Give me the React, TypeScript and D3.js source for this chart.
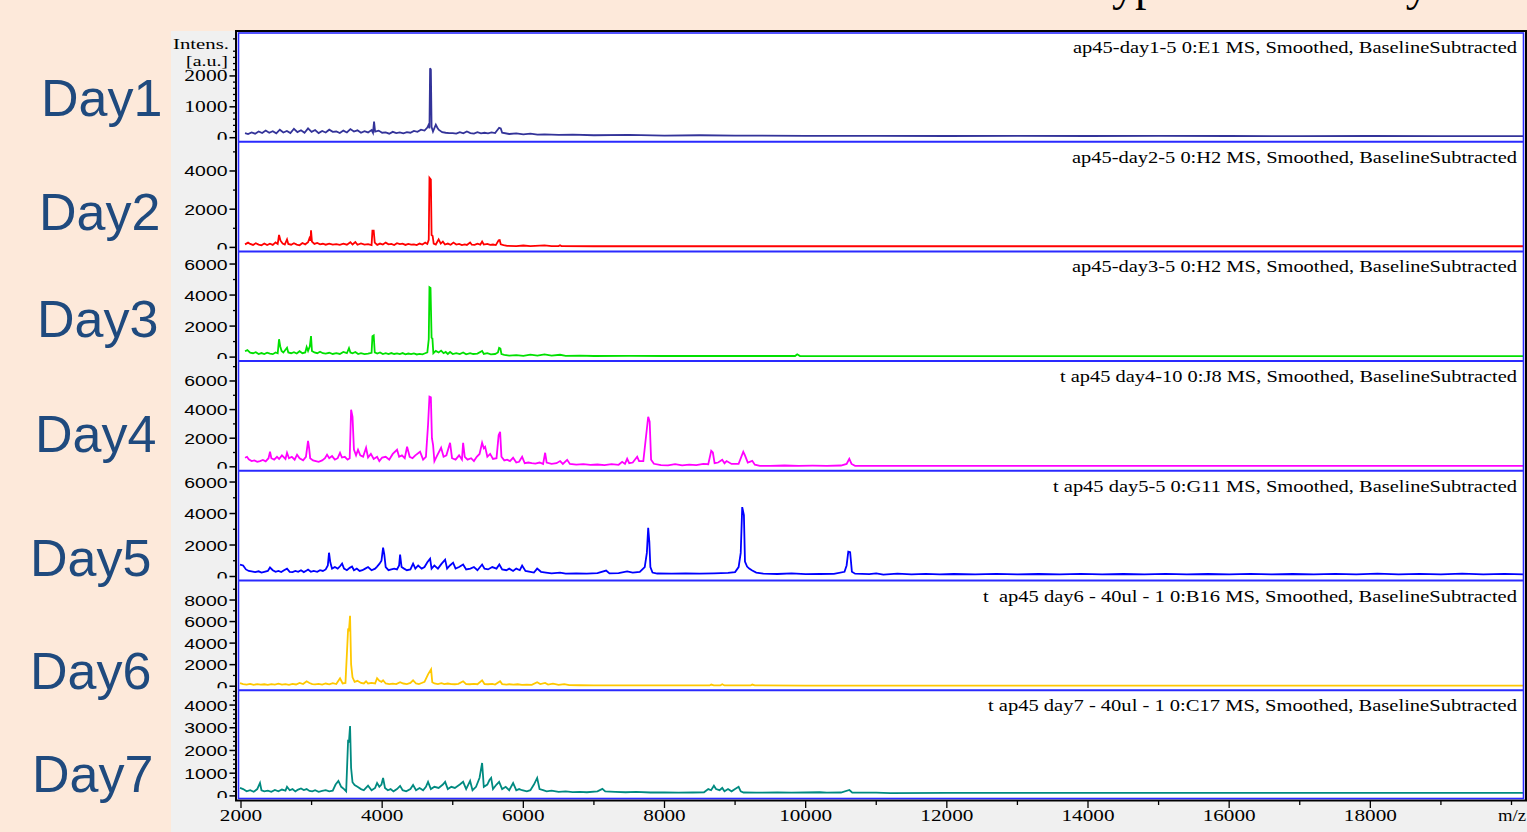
import React from 'react';
import * as d3 from 'd3';

const W = 1527;
const H = 832;

const dayLabels = ['Day1', 'Day2', 'Day3', 'Day4', 'Day5', 'Day6', 'Day7'];
const dayLabelX = [41, 39, 37, 35, 30, 30, 32];
const dayLabelBaseline = [116, 230, 337, 452, 576, 689, 792];

const headers = [
  'ap45-day1-5 0:E1 MS, Smoothed, BaselineSubtracted',
  'ap45-day2-5 0:H2 MS, Smoothed, BaselineSubtracted',
  'ap45-day3-5 0:H2 MS, Smoothed, BaselineSubtracted',
  't ap45 day4-10 0:J8 MS, Smoothed, BaselineSubtracted',
  't ap45 day5-5 0:G11 MS, Smoothed, BaselineSubtracted',
  't\u00a0 ap45 day6 - 40ul - 1 0:B16 MS, Smoothed, BaselineSubtracted',
  't ap45 day7 - 40ul - 1 0:C17 MS, Smoothed, BaselineSubtracted',
];
const headerStart = [1073, 1072, 1072, 1060, 1053, 983, 988];

const colors = ['#333399', '#ff0000', '#00e000', '#ff00ff', '#0000ff', '#ffc800', '#008a80'];

const yMaxes = [3390, 5480, 6750, 7320, 6650, 9720, 4610];
const yMajorSteps = [1000, 2000, 2000, 2000, 2000, 2000, 1000];
const yMinorSteps = [200, 1000, 1000, 1000, 1000, 1000, 200];
const yTickTop = [2000, 4000, 6000, 6000, 6000, 8000, 4000];

const xMajorTicks = [2000, 4000, 6000, 8000, 10000, 12000, 14000, 16000, 18000];
const xMinorTicks = [3000, 5000, 7000, 9000, 11000, 13000, 15000, 17000, 19000, 20000];
const xDomain = [2000, 20000];

const day1: [number, number][] = [
  [2057,150],[2100,120],[2150,170],[2200,130],[2250,200],[2300,150],[2350,230],[2400,160],[2450,210],[2500,140],
  [2550,260],[2600,170],[2650,220],[2700,150],[2750,290],[2800,180],[2850,240],[2900,160],[2950,300],[3000,190],
  [3050,250],[3100,150],[3150,220],[3200,170],[3250,260],[3300,190],[3350,200],[3400,150],[3450,230],[3500,170],
  [3550,280],[3600,200],[3650,240],[3700,160],[3750,210],[3800,170],[3850,250],[3870,160],[3885,520],[3900,200],
  [3950,230],[4000,160],[4050,170],[4100,130],[4150,190],[4200,150],[4250,170],[4300,140],[4350,180],[4400,160],
  [4450,220],[4500,190],[4550,260],[4600,230],[4640,330],[4660,430],[4670,300],[4679,2250],[4690,2200],[4700,350],
  [4720,200],[4760,420],[4780,330],[4800,260],[4850,180],[4900,160],[4950,150],[5000,150],[5050,130],[5100,180],
  [5150,140],[5200,200],[5250,150],[5300,130],[5350,180],[5400,140],[5450,160],[5500,140],[5550,170],[5600,150],
  [5657,320],[5680,300],[5700,160],[5800,120],[5900,140],[6000,110],[6100,130],[6200,100],[6300,110],[6500,90],
  [6700,100],[7000,80],[7500,90],[8000,70],[8500,80],[9000,70],[10000,60],[11000,60],[12000,55],[13000,60],
  [14000,55],[15000,60],[16000,55],[17000,50],[18000,55],[19000,50],[20186,50],
];

const day2: [number, number][] = [
  [2057,160],[2100,250],[2130,180],[2170,130],[2210,220],[2250,150],[2290,110],[2330,200],[2370,120],[2410,190],
  [2450,130],[2490,260],[2520,180],[2539,650],[2560,350],[2590,200],[2620,150],[2652,420],[2670,180],[2710,140],
  [2750,220],[2790,150],[2830,110],[2870,230],[2910,160],[2950,270],[2970,480],[2985,350],[2992,900],[3005,300],
  [3040,180],[3080,230],[3120,160],[3160,190],[3200,140],[3250,200],[3300,150],[3350,170],[3400,130],[3450,200],
  [3500,140],[3550,270],[3580,150],[3620,280],[3650,140],[3700,210],[3750,150],[3800,170],[3850,120],[3862,880],
  [3880,880],[3895,250],[3930,130],[3970,200],[4010,150],[4050,250],[4090,160],[4130,180],[4170,120],[4210,220],
  [4250,170],[4290,200],[4330,130],[4370,180],[4410,150],[4450,160],[4490,120],[4530,200],[4570,150],[4610,250],
  [4640,180],[4660,400],[4670,3640],[4690,3550],[4700,650],[4715,600],[4730,200],[4760,150],[4800,420],[4830,200],
  [4860,300],[4890,150],[4930,200],[4970,140],[5010,250],[5050,150],[5090,180],[5130,120],[5170,160],[5200,130],
  [5246,260],[5270,140],[5310,130],[5350,190],[5390,140],[5416,310],[5440,150],[5490,180],[5530,130],[5570,150],
  [5610,120],[5650,370],[5665,380],[5680,160],[5720,120],[5770,80],[5900,70],[6000,100],[6100,70],[6300,110],
  [6400,70],[6500,70],[6520,110],[6540,70],[7000,60],[8000,60],[10000,60],[12000,60],[14000,60],[16000,60],
  [18000,60],[20186,60],
];

const day3: [number, number][] = [
  [2057,380],[2090,450],[2130,280],[2170,250],[2210,320],[2250,200],[2290,260],[2330,200],[2370,280],[2410,220],
  [2450,190],[2490,300],[2520,250],[2539,1150],[2555,700],[2575,400],[2600,300],[2652,600],[2670,300],[2710,250],
  [2750,320],[2790,230],[2830,380],[2870,250],[2910,300],[2930,650],[2950,400],[2975,700],[2992,1350],[3005,400],
  [3040,300],[3080,250],[3120,350],[3160,250],[3200,230],[3250,280],[3300,200],[3350,250],[3400,200],[3450,330],
  [3500,250],[3530,580],[3550,300],[3580,250],[3620,330],[3660,200],[3700,250],[3750,190],[3800,220],[3850,280],
  [3862,1350],[3880,1400],[3895,300],[3930,230],[3970,300],[4010,200],[4050,250],[4090,190],[4130,260],[4170,200],
  [4210,240],[4250,190],[4290,260],[4330,180],[4370,230],[4410,190],[4450,240],[4490,170],[4530,210],[4570,180],
  [4610,250],[4640,300],[4660,1150],[4670,4500],[4685,4450],[4700,1250],[4712,1200],[4725,250],[4760,400],[4800,300],
  [4835,420],[4870,250],[4900,330],[4930,200],[4962,330],[5000,200],[5050,260],[5100,200],[5147,300],[5190,180],
  [5246,260],[5290,200],[5350,230],[5416,400],[5440,200],[5490,250],[5540,180],[5600,200],[5640,300],[5657,600],
  [5675,550],[5690,200],[5730,150],[5800,100],[5900,130],[6000,80],[6100,160],[6200,100],[6300,180],[6400,100],
  [6520,150],[6600,80],[6800,90],[7000,70],[7500,80],[8000,70],[9000,70],[9850,70],[9880,180],[9920,70],
  [10000,60],[12000,60],[14000,60],[16000,60],[18000,60],[20186,60],
];

const day4: [number, number][] = [
  [2057,630],[2085,700],[2110,520],[2150,400],[2190,450],[2230,350],[2270,400],[2310,480],[2350,380],[2390,600],
  [2411,1050],[2430,600],[2470,500],[2510,700],[2540,550],[2580,800],[2630,550],[2652,980],[2680,600],[2720,700],
  [2760,500],[2794,850],[2830,600],[2880,450],[2920,700],[2950,1820],[2965,1300],[2980,600],[3020,450],[3060,400],
  [3100,350],[3150,450],[3190,600],[3219,850],[3250,600],[3290,750],[3330,500],[3370,600],[3403,980],[3430,650],
  [3470,700],[3510,500],[3540,600],[3560,3990],[3580,3500],[3600,1200],[3630,800],[3658,1190],[3690,800],[3730,700],
  [3772,1330],[3800,650],[3840,900],[3880,550],[3928,700],[3960,400],[4000,650],[4050,700],[4100,500],[4150,900],
  [4211,1190],[4240,700],[4280,800],[4320,600],[4353,1400],[4390,700],[4430,600],[4470,800],[4537,1050],[4580,500],
  [4620,700],[4650,2940],[4670,4900],[4690,4850],[4705,2000],[4721,1540],[4740,400],[4780,800],[4835,1330],[4870,700],
  [4910,800],[4962,1680],[4990,600],[5040,500],[5090,800],[5130,500],[5147,1680],[5170,700],[5210,500],[5260,600],
  [5300,400],[5340,700],[5380,900],[5416,1680],[5440,1300],[5459,1400],[5490,700],[5530,900],[5570,550],[5620,600],
  [5650,2200],[5671,2450],[5690,700],[5730,450],[5770,500],[5810,400],[5855,630],[5900,300],[5940,350],[5983,700],
  [6020,250],[6070,300],[6120,250],[6170,220],[6230,300],[6280,200],[6309,980],[6330,300],[6400,200],[6470,250],
  [6521,400],[6560,200],[6621,490],[6660,200],[6750,150],[6850,180],[6950,140],[7050,160],[7150,120],[7250,180],
  [7350,140],[7400,350],[7440,200],[7471,560],[7500,250],[7550,300],[7613,700],[7640,400],[7700,400],[7769,3500],
  [7790,3150],[7810,500],[7850,210],[7950,120],[8050,100],[8150,180],[8250,100],[8350,150],[8450,120],[8550,200],
  [8620,180],[8662,1120],[8685,1000],[8710,250],[8760,300],[8818,490],[8850,250],[8880,400],[8950,200],[9050,200],
  [9116,1050],[9140,800],[9180,300],[9243,420],[9280,150],[9350,70],[9500,70],[9700,90],[9900,70],[10100,80],
  [10300,70],[10500,90],[10580,200],[10618,560],[10650,200],[10700,70],[11000,70],[11500,70],[12000,70],[14000,70],
  [16000,70],[18000,70],[20186,70],
];

const day5: [number, number][] = [
  [1986,760],[2030,700],[2070,450],[2110,350],[2150,320],[2200,280],[2250,330],[2290,250],[2330,300],[2380,350],
  [2411,570],[2450,400],[2490,300],[2530,350],[2570,280],[2610,400],[2652,500],[2690,300],[2730,280],[2770,350],
  [2810,300],[2850,400],[2890,280],[2930,380],[2950,440],[2990,300],[3030,350],[3080,300],[3120,400],[3160,350],
  [3200,450],[3230,700],[3247,1510],[3265,900],[3290,500],[3330,600],[3370,500],[3403,650],[3432,820],[3460,500],
  [3500,400],[3540,550],[3573,630],[3600,400],[3640,500],[3680,350],[3720,400],[3760,500],[3800,600],[3850,400],
  [3900,500],[3928,630],[3960,800],[3990,1000],[4013,1830],[4030,1400],[4050,600],[4090,400],[4130,450],[4170,500],
  [4210,450],[4240,700],[4254,1390],[4275,600],[4310,500],[4350,400],[4400,450],[4438,820],[4470,500],[4510,700],
  [4560,500],[4600,600],[4640,900],[4679,1130],[4700,500],[4740,700],[4790,500],[4840,800],[4892,1070],[4920,500],
  [4960,700],[5005,880],[5040,500],[5090,600],[5147,760],[5190,450],[5250,500],[5300,600],[5350,400],[5416,760],
  [5450,500],[5500,450],[5560,600],[5620,500],[5660,760],[5700,450],[5760,400],[5800,500],[5855,350],[5900,500],
  [5950,400],[5983,690],[6030,350],[6100,300],[6150,250],[6196,500],[6250,300],[6320,250],[6400,200],[6521,250],
  [6600,180],[6750,200],[6900,180],[7050,220],[7173,380],[7220,200],[7350,220],[7471,320],[7550,250],[7650,300],
  [7720,600],[7750,1500],[7769,3090],[7785,2200],[7800,600],[7830,250],[7896,190],[8100,180],[8300,200],[8500,180],
  [8700,200],[8900,230],[9000,280],[9050,600],[9080,1500],[9101,4410],[9125,3900],[9140,950],[9170,630],[9200,500],
  [9243,380],[9300,250],[9400,180],[9600,160],[9800,200],[10000,150],[10200,160],[10400,170],[10550,300],[10580,700],
  [10604,1580],[10630,1550],[10655,300],[10700,180],[10900,150],[11000,200],[11100,120],[11300,180],[11500,130],[11700,170],
  [11900,140],[12100,160],[12400,130],[12700,170],[13000,140],[13300,160],[13600,130],[13900,170],[14200,140],[14500,160],
  [14800,130],[15100,170],[15400,140],[15700,160],[16000,130],[16300,170],[16600,140],[16900,160],[17200,130],[17500,170],
  [17800,140],[18100,180],[18400,130],[18700,170],[19000,140],[19300,180],[19600,130],[19900,170],[20186,140],
];

const day6: [number, number][] = [
  [1986,280],[2030,200],[2080,150],[2130,220],[2180,130],[2230,200],[2280,150],[2330,180],[2380,120],[2430,200],
  [2480,150],[2530,230],[2580,140],[2630,200],[2680,130],[2730,220],[2780,160],[2830,300],[2880,200],[2930,460],
  [2970,300],[3010,200],[3050,170],[3100,220],[3150,150],[3200,250],[3250,180],[3300,280],[3350,200],[3403,740],
  [3440,250],[3480,300],[3517,5240],[3530,5200],[3545,6530],[3560,2020],[3580,830],[3610,400],[3650,500],[3700,300],
  [3740,250],[3772,460],[3800,250],[3850,300],[3900,250],[3928,740],[3960,500],[3990,400],[4013,550],[4050,250],
  [4100,200],[4150,230],[4200,200],[4254,370],[4300,250],[4350,200],[4400,300],[4438,550],[4480,250],[4520,200],
  [4560,300],[4600,400],[4650,1100],[4693,1560],[4710,370],[4740,250],[4790,200],[4840,280],[4880,200],[4930,250],
  [4980,200],[5030,180],[5080,220],[5147,460],[5190,200],[5240,180],[5300,220],[5350,180],[5416,550],[5450,200],
  [5500,180],[5560,220],[5600,150],[5671,460],[5700,200],[5760,150],[5800,180],[5860,140],[5920,180],[5980,120],
  [6050,150],[6120,120],[6196,370],[6240,200],[6309,300],[6350,150],[6420,230],[6500,130],[6580,200],[6650,100],
  [6800,90],[7000,80],[7500,70],[8000,70],[8500,70],[8640,70],[8662,150],[8700,70],[8790,70],[8818,180],
  [8850,70],[9220,70],[9243,150],[9280,70],[10000,60],[12000,60],[14000,60],[16000,60],[18000,60],[20186,60],
];

const day7: [number, number][] = [
  [1986,350],[2030,300],[2080,200],[2130,250],[2180,180],[2230,300],[2269,570],[2290,250],[2330,200],[2380,230],
  [2430,180],[2480,260],[2530,200],[2580,280],[2630,230],[2652,400],[2690,250],[2730,300],[2770,200],[2810,280],
  [2850,330],[2890,260],[2930,300],[2970,220],[3010,200],[3050,250],[3100,180],[3150,220],[3200,250],[3250,200],
  [3300,230],[3340,500],[3380,660],[3420,400],[3460,300],[3490,200],[3517,2420],[3530,2400],[3545,3080],[3560,1230],
  [3580,600],[3610,480],[3650,400],[3700,300],[3740,250],[3800,450],[3850,250],[3900,350],[3928,570],[3960,400],
  [3990,500],[4013,790],[4040,350],[4080,250],[4120,300],[4160,200],[4210,300],[4254,440],[4290,250],[4340,200],
  [4400,300],[4438,480],[4480,250],[4530,350],[4580,250],[4620,400],[4650,620],[4690,300],[4740,400],[4800,350],
  [4860,500],[4892,620],[4930,300],[4980,400],[5030,350],[5100,500],[5147,620],[5190,300],[5246,660],[5280,250],
  [5330,400],[5380,800],[5416,1450],[5440,400],[5490,500],[5520,700],[5544,790],[5570,300],[5620,500],[5657,620],
  [5700,300],[5750,400],[5800,250],[5855,570],[5900,250],[5940,300],[5983,250],[6050,200],[6100,250],[6150,500],
  [6196,790],[6230,300],[6280,250],[6330,200],[6400,230],[6500,180],[6600,200],[6700,170],[6800,180],[6900,160],
  [7050,200],[7120,310],[7160,200],[7300,180],[7450,160],[7600,180],[7800,150],[8000,150],[8200,140],[8400,150],
  [8560,160],[8620,300],[8660,250],[8700,450],[8730,300],[8780,250],[8818,350],[8850,200],[8900,300],[8950,200],
  [9000,300],[9050,400],[9080,200],[9120,150],[9300,140],[9600,150],[9800,140],[10000,150],[10200,160],[10300,140],
  [10500,150],[10620,260],[10660,140],[11000,140],[11200,120],[12000,130],[14000,130],[16000,130],[18000,130],[20186,130],
];

const spectra = [day1, day2, day3, day4, day5, day6, day7];

// layout
const FRAME_L = 238;
const FRAME_R = 1524;
const PLOT_TOP = 32;
const PANEL_H = 109.7;

const x = d3.scaleLinear().domain(xDomain).range([241, 1511.5]);

function digitsWidth(s: string, per: number) {
  return s.length * per;
}

export default function App() {
  const panels = spectra.map((data, i) => {
    const top = PLOT_TOP + i * PANEL_H;
    const bottom = top + PANEL_H;
    const y = d3.scaleLinear().domain([0, yMaxes[i]]).range([bottom - 4, top + 1]);
    const line = d3
      .line<[number, number]>()
      .x((d) => x(d[0]))
      .y((d) => y(d[1]));
    const majors = d3.range(0, yTickTop[i] + 1, yMajorSteps[i]);
    const minors = d3
      .range(0, yMaxes[i], yMinorSteps[i])
      .filter((v) => v % yMajorSteps[i] !== 0);
    return { top, bottom, y, path: line(data) || '', majors, minors };
  });

  const serif = "'Liberation Serif', 'DejaVu Serif', serif";
  const sans = "'Liberation Sans', Arial, sans-serif";

  return (
    <svg
      width={W}
      height={H}
      viewBox={`0 0 ${W} ${H}`}
      style={{ position: 'absolute', left: 0, top: 0, display: 'block' }}
    >
      <defs>
        {panels.map((p, i) => (
          <clipPath id={`plot-clip-${i}`} key={`pc${i}`}>
            <rect x={FRAME_L} y={p.top} width={FRAME_R - FRAME_L} height={PANEL_H} />
          </clipPath>
        ))}
        {panels.map((p, i) => (
          <clipPath id={`lab-clip-${i}`} key={`lc${i}`}>
            <rect x={172} y={p.top - 12} width={FRAME_L - 172} height={p.bottom - p.top + 10} />
          </clipPath>
        ))}
      </defs>

      <rect x={0} y={0} width={W} height={H} fill="#fde9da" />
      <text x={1087} y={0} fontFamily={serif} fontSize={46} fill="#000">
        Typical Results by
      </text>
      <rect x={171} y={31} width={W - 171} height={H - 31} fill="#f0f0f0" />

      {/* plot frame */}
      <rect x={236} y={31} width={1290} height={769.5} fill="#ffffff" stroke="#000" strokeWidth={2} />

      {/* spectra */}
      {panels.map((p, i) => (
        <g key={`s${i}`} clipPath={`url(#plot-clip-${i})`}>
          <path d={p.path} fill="none" stroke={colors[i]} strokeWidth={1.8} strokeLinejoin="miter" />
        </g>
      ))}

      {/* inner blue frame & dividers */}
      <rect x={238.5} y={33} width={1285} height={765.5} fill="none" stroke="#2a2aff" strokeWidth={1.6} />
      {panels.slice(1).map((p, i) => (
        <line key={`dv${i}`} x1={238} x2={1524} y1={p.top} y2={p.top} stroke="#2a2aff" strokeWidth={2} />
      ))}

      {/* headers */}
      {headers.map((h, i) => (
        <text
          key={`h${i}`}
          x={headerStart[i]}
          y={panels[i].top + 21}
          fontFamily={serif}
          fontSize={16}
          fill="#000"
          textLength={1517 - headerStart[i]}
          lengthAdjust="spacingAndGlyphs"
          xmlSpace="preserve"
        >
          {h}
        </text>
      ))}

      {/* y axes */}
      {panels.map((p, i) => (
        <g key={`ya${i}`}>
          {p.minors.map((v) => (
            <line key={`mn${v}`} x1={233} x2={237} y1={p.y(v)} y2={p.y(v)} stroke="#000" strokeWidth={1.3} />
          ))}
          {p.majors.map((v) => (
            <line key={`mj${v}`} x1={229.5} x2={237} y1={p.y(v)} y2={p.y(v)} stroke="#000" strokeWidth={1.5} />
          ))}
          <g clipPath={`url(#lab-clip-${i})`}>
            {p.majors.map((v) => {
              const s = String(v);
              const w = digitsWidth(s, 10.8);
              return (
                <text
                  key={`tl${v}`}
                  x={227.5 - w}
                  y={p.y(v) + 5.5}
                  fontFamily={i === 0 ? serif : sans}
                  fontSize={i === 0 ? 16 : 14}
                  fill="#000"
                  textLength={w}
                  lengthAdjust="spacingAndGlyphs"
                >
                  {s}
                </text>
              );
            })}
          </g>
        </g>
      ))}

      <text x={173} y={49} fontFamily={serif} fontSize={15} fill="#000" textLength={56} lengthAdjust="spacingAndGlyphs">
        Intens.
      </text>
      <text x={186} y={66} fontFamily={serif} fontSize={15} fill="#000" textLength={42} lengthAdjust="spacingAndGlyphs">
        [a.u.]
      </text>

      {/* x axis */}
      {xMajorTicks.map((v) => (
        <line key={`xj${v}`} x1={x(v)} x2={x(v)} y1={801} y2={808} stroke="#000" strokeWidth={1.3} />
      ))}
      {xMinorTicks.map((v) => (
        <line key={`xn${v}`} x1={x(v)} x2={x(v)} y1={801} y2={805} stroke="#000" strokeWidth={1.3} />
      ))}
      {xMajorTicks.map((v) => {
        const s = String(v);
        const w = digitsWidth(s, 10.6);
        return (
          <text
            key={`xl${v}`}
            x={x(v) - w / 2}
            y={821}
            fontFamily={serif}
            fontSize={17}
            fill="#000"
            textLength={w}
            lengthAdjust="spacingAndGlyphs"
          >
            {s}
          </text>
        );
      })}
      <text x={1498} y={821} fontFamily={serif} fontSize={16} fill="#000" textLength={28} lengthAdjust="spacingAndGlyphs">
        m/z
      </text>

      {/* day labels */}
      {dayLabels.map((d, i) => (
        <text
          key={`d${i}`}
          x={dayLabelX[i]}
          y={dayLabelBaseline[i]}
          fontFamily={sans}
          fontSize={52}
          fill="#1f4a7e"
        >
          {d}
        </text>
      ))}
    </svg>
  );
}
